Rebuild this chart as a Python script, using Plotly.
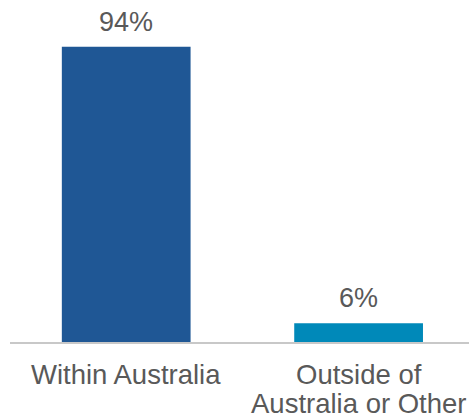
import plotly.graph_objects as go

categories = ["Within Australia", "Outside of Australia or Other"]
label_lines = [["Within Australia"], ["Outside of", "Australia or Other"]]
values = [94, 6]
value_labels = ["94%", "6%"]
colors = ["#1F5795", "#0089B9"]

FONT = "Liberation Sans, Arial, sans-serif"
TXT = "#595959"

fig = go.Figure(go.Bar(
    x=categories, y=values, marker=dict(color=colors, line=dict(width=0)),
    hoverinfo="skip",
))

ann = []
for c, v, t in zip(categories, values, value_labels):
    ann.append(dict(x=c, y=v, xref="x", yref="y", text=t, showarrow=False,
                    yanchor="bottom", yshift=8, font=dict(family=FONT, size=27, color=TXT)))
for c, lines in zip(categories, label_lines):
    for i, line in enumerate(lines):
        ann.append(dict(x=c, y=0, xref="x", yref="paper", text=line, showarrow=False,
                        yanchor="top", yshift=-15 - 29 * i,
                        font=dict(family=FONT, size=27.5, color=TXT)))

fig.update_layout(
    width=469, height=416,
    margin=dict(l=10, r=0, t=28, b=74),
    paper_bgcolor="white", plot_bgcolor="white",
    bargap=0.446, showlegend=False,
    xaxis=dict(range=[-0.5, 1.475], showticklabels=False, showline=True,
               linecolor="#C8C8C8", linewidth=2, ticks="", showgrid=False, zeroline=False),
    yaxis=dict(range=[0, 100], visible=False, showgrid=False, zeroline=False),
    annotations=ann,
)

fig.write_html("out.html")
